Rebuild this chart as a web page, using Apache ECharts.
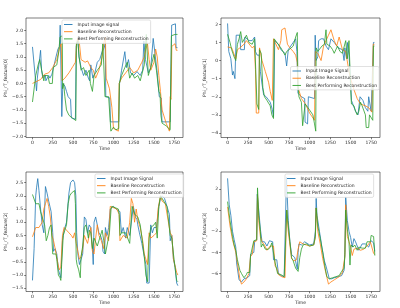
<!DOCTYPE html>
<html>
<head>
<meta charset="utf-8">
<script src="https://cdn.jsdelivr.net/npm/echarts@6/dist/echarts.min.js"></script>
<style>
html, body { margin: 0; padding: 0; background: #fff; }
#chart { width: 400px; height: 308px; }
</style>
</head>
<body>
<div id="chart"></div>
<script>
// tick labels
const timeTicks = [0, 250, 500, 750, 1000, 1250, 1500, 1750]
const yTicks = [
  [-2, -1.5, -1, -0.5, 0, 0.5, 1, 1.5, 2],
  [-4, -3, -2, -1, 0, 1, 2],
  [-1.5, -1, -0.5, 0, 0.5, 1, 1.5, 2, 2.5],
  [-6, -4, -2, 0, 2],
]
const yDecimals = [1, 0, 1, 0]
const yNames = ['Phi_rT_feature[0]', 'Phi_rT_feature[1]', 'Phi_rT_feature[2]', 'Phi_rT_feature[3]']
const inputNames = ['Input image signal', 'Input Image Signal', 'Input Image Signal', 'Input Image Signal']
const baseName = 'Baseline Reconstruction'
const bestName = 'Best Performing Reconstruction'

// feature[0]  [time, value]
const f0Input = [[0,1.38],[50,-0.28],[60,0.2],[100,1.25],[112,0.5],[128,0.2],[135,0.3],[160,0.3],[165,0.1],[200,0.3],[215,0.2],[240,0.35],[260,0.6],[290,1.0],[315,1.3],[335,1.4],[342,2.2],[358,2.25],[362,-1.25],[375,0.0],[400,-0.1],[420,-0.3],[440,-0.5],[470,-0.6],[480,-1.3],[530,-1.35],[540,1.4],[560,1.7],[575,1.0],[600,0.6],[630,0.3],[660,0.5],[690,0.2],[705,0.1],[720,0.7],[745,0.2],[770,0.4],[800,0.8],[830,0.9],[860,1.2],[885,1.35],[898,1.5],[905,-0.5],[955,-0.55],[962,-1.45],[1065,-1.45],[1075,0.0],[1100,0.5],[1140,1.2],[1160,0.6],[1185,0.9],[1210,0.4],[1250,0.3],[1290,0.45],[1330,0.3],[1360,0.5],[1375,1.6],[1395,0.9],[1430,0.4],[1460,0.6],[1490,1.7],[1540,0.4],[1565,-0.5],[1590,-0.55],[1598,-1.45],[1700,-1.45],[1718,2.2],[1765,2.25],[1772,1.35],[1790,1.35]]
const f0Base = [[0,0.0],[100,0.15],[150,0.35],[200,0.4],[250,0.6],[300,0.9],[330,1.3],[355,1.5],[365,0.1],[400,0.2],[450,0.4],[500,0.65],[530,0.8],[545,1.5],[560,1.7],[580,1.5],[600,0.9],[650,0.8],[680,0.85],[700,0.9],[720,0.6],[750,0.5],[780,0.2],[820,0.5],[860,1.0],[880,1.5],[900,1.75],[910,0.2],[950,-0.2],[980,-0.9],[1000,-1.7],[1060,-1.8],[1070,0.0],[1100,0.2],[1150,0.4],[1200,0.6],[1250,0.4],[1300,0.5],[1350,0.8],[1380,1.0],[1400,1.3],[1420,1.5],[1440,0.9],[1460,0.5],[1500,0.8],[1520,1.3],[1540,1.0],[1560,0.3],[1580,-0.3],[1600,-1.0],[1650,-1.5],[1690,-1.8],[1700,-0.5],[1710,-0.6],[1720,1.4],[1760,1.5],[1775,1.25],[1790,1.25]]
const f0Best = [[0,-0.7],[40,0.3],[70,0.7],[90,0.9],[110,0.55],[140,0.1],[150,0.3],[190,0.3],[200,0.25],[210,0.0],[245,0.0],[255,0.6],[300,0.7],[325,1.2],[340,1.75],[368,1.8],[372,-0.2],[385,0.0],[400,-0.5],[420,-1.0],[450,-1.2],[490,-1.3],[535,-1.4],[542,1.5],[560,1.6],[575,1.0],[600,0.5],[630,0.6],[660,0.3],[700,0.5],[715,0.0],[740,-0.3],[760,0.3],[800,0.5],[850,0.7],[868,1.5],[880,0.7],[895,-0.5],[940,-0.5],[968,-1.8],[1000,-1.65],[1030,-1.75],[1065,-1.7],[1072,0.0],[1100,0.3],[1140,0.6],[1170,0.8],[1200,0.2],[1230,0.4],[1260,0.2],[1300,0.3],[1330,0.1],[1380,0.7],[1405,1.85],[1420,1.85],[1430,0.3],[1460,0.6],[1500,1.1],[1530,0.5],[1560,-0.3],[1575,-0.4],[1585,-1.2],[1600,-1.5],[1650,-1.6],[1700,-1.75],[1705,-0.4],[1715,1.8],[1760,1.85],[1790,1.85]]

// feature[1]
const f1Input = [[0,2.05],[15,0.5],[40,0.1],[60,-0.8],[70,-0.6],[90,-1.0],[105,1.4],[150,1.4],[160,0.6],[205,0.6],[212,1.3],[260,1.1],[300,1.1],[330,1.3],[340,0.5],[360,0.3],[385,0.3],[400,-0.6],[420,-1.3],[440,-1.9],[470,-2.0],[520,-2.3],[545,-2.7],[560,-3.1],[575,1.1],[620,0.9],[650,0.6],[700,0.4],[720,-0.3],[740,0.6],[760,0.7],[800,1.0],[830,1.2],[845,0.5],[858,-1.8],[900,-2.0],[940,-2.1],[945,-3.4],[975,-3.5],[985,-2.0],[1060,-2.1],[1068,1.4],[1078,0.0],[1100,0.2],[1110,1.1],[1140,1.2],[1170,1.2],[1200,0.8],[1230,0.6],[1260,1.2],[1300,1.0],[1350,0.7],[1400,0.6],[1420,0.0],[1430,0.7],[1450,0.1],[1460,1.0],[1480,0.3],[1500,-1.2],[1510,-2.2],[1560,-2.8],[1590,-3.0],[1600,-3.1],[1615,-2.0],[1650,-2.2],[1680,-2.6],[1710,-2.8],[1720,-2.0],[1750,-2.8],[1770,-2.8],[1778,1.0],[1790,1.0]]
const f1Base = [[0,0.75],[50,0.7],[100,0.1],[115,0.0],[120,0.6],[150,0.7],[200,0.9],[230,1.1],[250,1.0],[300,0.7],[325,0.8],[340,-0.5],[350,-2.9],[380,-2.9],[390,0.7],[420,0.0],[460,-0.6],[500,-1.2],[520,-1.7],[545,-2.2],[560,1.2],[580,1.0],[620,0.6],[650,1.1],[660,1.7],[700,1.8],[720,1.8],[730,0.9],[760,0.7],[800,0.5],[830,0.3],[850,-0.1],[860,-1.5],[900,-2.1],[950,-2.4],[1000,-2.9],[1060,-3.3],[1070,0.5],[1100,0.4],[1140,0.0],[1170,0.8],[1200,1.1],[1230,1.4],[1260,1.7],[1280,1.6],[1300,1.1],[1330,0.8],[1360,1.3],[1400,0.6],[1440,0.5],[1480,-0.6],[1500,-1.0],[1540,-1.6],[1580,-2.1],[1620,-2.4],[1680,-2.5],[1720,-2.6],[1760,-2.85],[1775,0.9],[1790,0.9]]
const f1Best = [[0,1.45],[30,1.0],[50,0.6],[80,0.2],[100,0.0],[120,0.9],[140,1.2],[160,1.6],[180,1.0],[200,0.9],[230,1.4],[260,1.0],[300,0.9],[330,1.2],[352,1.3],[358,-2.4],[380,-2.7],[388,0.6],[410,0.4],[430,-1.5],[450,-2.0],[480,-2.2],[500,-2.3],[520,-2.5],[540,-3.0],[560,-3.2],[568,1.2],[600,1.0],[620,0.9],[650,0.7],[700,0.3],[720,0.5],[750,0.6],[800,0.8],[830,1.3],[850,1.55],[858,-1.3],[870,-2.0],[900,-2.3],[915,-3.6],[935,-3.6],[945,-2.4],[980,-2.6],[1000,-2.7],[1040,-3.0],[1060,-3.5],[1075,-3.9],[1080,0.7],[1100,0.5],[1150,0.8],[1180,0.9],[1200,1.7],[1210,0.9],[1250,0.8],[1280,0.6],[1300,0.4],[1340,0.8],[1370,0.5],[1400,0.4],[1420,0.3],[1440,1.1],[1460,0.1],[1480,1.1],[1500,-1.5],[1510,-2.4],[1540,-2.5],[1560,-2.8],[1580,-3.0],[1600,-2.8],[1620,-2.3],[1640,-2.5],[1680,-3.0],[1690,-3.7],[1720,-3.7],[1730,-3.0],[1770,-3.3],[1778,0.8],[1790,0.8]]

// feature[2]
const f2Input = [[0,-1.2],[20,0.0],[40,2.0],[50,2.3],[65,2.65],[80,2.2],[100,1.5],[120,0.9],[140,0.6],[160,2.35],[180,2.1],[200,1.8],[230,1.4],[250,0.6],[260,-0.1],[280,0.0],[300,-0.2],[320,-0.8],[340,-1.0],[350,-1.1],[370,0.3],[390,0.7],[420,1.0],[450,2.1],[470,2.5],[500,2.6],[520,2.5],[535,2.0],[545,0.6],[560,-0.2],[580,-0.6],[600,-0.4],[620,-0.2],[640,1.2],[660,1.1],[680,0.6],[700,0.9],[720,0.8],[740,0.0],[750,-0.6],[760,1.0],[780,1.2],[800,1.2],[820,0.6],[840,0.5],[860,0.3],[870,-0.1],[890,-0.2],[900,0.8],[920,0.5],[940,0.8],[960,1.5],[1000,1.6],[1030,1.5],[1080,1.4],[1090,0.9],[1100,0.6],[1120,0.8],[1150,0.4],[1170,0.8],[1200,0.5],[1245,1.6],[1270,1.2],[1290,1.1],[1300,0.9],[1320,0.6],[1350,0.2],[1380,-0.3],[1400,-0.6],[1410,-1.3],[1440,-1.3],[1460,0.9],[1480,0.6],[1500,0.8],[1530,0.8],[1560,1.6],[1580,1.9],[1600,2.0],[1630,1.9],[1660,1.6],[1690,1.3],[1700,0.3],[1720,0.5],[1740,-0.4],[1760,-0.7],[1780,-1.3],[1795,-1.4]]
const f2Base = [[0,0.45],[40,0.8],[80,0.8],[100,0.9],[120,1.0],[140,1.5],[160,1.7],[180,1.9],[200,1.6],[220,1.2],[240,0.5],[260,0.3],[280,0.0],[310,-0.5],[330,-0.8],[350,-0.7],[370,0.5],[390,0.8],[420,0.7],[450,0.6],[480,0.5],[500,0.4],[520,0.6],[540,0.2],[560,-0.1],[580,-0.4],[600,-0.3],[620,0.0],[640,0.5],[680,0.2],[700,0.5],[720,0.8],[740,-0.1],[760,-0.2],[780,0.4],[800,0.9],[820,0.5],[850,0.3],[880,0.0],[900,0.6],[940,0.3],[960,1.6],[980,1.55],[1040,1.5],[1070,1.3],[1080,0.3],[1120,0.5],[1170,0.4],[1200,1.0],[1220,1.9],[1240,1.7],[1260,1.0],[1280,1.5],[1300,1.1],[1330,0.8],[1360,0.3],[1380,-0.2],[1400,-0.4],[1420,-0.6],[1440,0.6],[1460,0.4],[1500,0.5],[1530,0.6],[1550,1.5],[1580,2.0],[1600,1.8],[1640,1.7],[1700,0.6],[1720,0.5],[1740,-0.4],[1780,-0.9],[1795,-1.0]]
const f2Best = [[0,2.05],[40,1.7],[80,1.7],[100,1.4],[120,1.2],[150,0.9],[170,0.3],[190,0.5],[210,0.8],[230,0.9],[250,-0.2],[290,-0.2],[300,-0.4],[320,-1.0],[340,-1.1],[350,-1.2],[360,-0.6],[380,0.5],[400,0.5],[420,0.9],[440,1.7],[460,2.0],[480,2.1],[520,2.2],[530,1.7],[540,-0.4],[550,-0.6],[570,-0.8],[590,-1.1],[600,-0.3],[620,0.1],[640,0.8],[660,0.9],[690,0.4],[700,0.7],[720,0.6],[740,0.0],[760,0.4],[780,0.4],[800,0.1],[830,0.4],[860,0.7],[880,0.3],[900,-0.2],[950,0.6],[970,1.5],[980,1.6],[1060,1.5],[1070,1.3],[1080,0.5],[1100,0.6],[1150,0.6],[1200,0.2],[1230,1.6],[1260,1.3],[1300,1.2],[1330,0.9],[1360,0.2],[1380,-0.3],[1400,-1.0],[1420,-1.25],[1440,0.4],[1460,0.8],[1500,0.9],[1520,1.0],[1540,0.4],[1560,1.6],[1580,2.0],[1620,1.8],[1660,1.6],[1680,1.6],[1700,0.5],[1720,0.4],[1740,-0.2],[1760,-0.7],[1780,-1.2],[1795,-1.25]]

// feature[3]
const f3Input = [[0,3.0],[20,0.5],[40,-0.5],[60,-2.0],[80,-2.8],[100,-3.5],[110,-5.0],[130,-5.1],[140,-6.6],[170,-6.8],[200,-6.5],[240,-6.4],[270,-6.2],[280,-4.2],[320,-4.0],[330,-3.0],[355,-2.8],[362,1.5],[380,0.0],[400,-1.8],[420,-3.0],[450,-3.0],[480,-3.4],[500,-3.5],[510,-2.9],[550,-3.0],[560,-4.7],[600,-4.7],[620,-6.0],[650,-6.2],[690,-6.3],[710,-6.2],[718,3.1],[740,-1.0],[760,-3.0],[780,-4.2],[820,-4.5],[850,-5.6],[860,-4.0],[870,-3.2],[900,-3.3],[940,-3.0],[960,-3.1],[1000,-3.3],[1050,-3.2],[1070,-2.0],[1080,1.1],[1090,-0.5],[1120,-2.0],[1150,-3.5],[1180,-4.8],[1200,-5.3],[1240,-6.5],[1270,-6.5],[1300,-6.4],[1350,-6.3],[1390,-6.2],[1420,-5.7],[1430,-4.0],[1440,1.2],[1460,-1.0],[1480,-2.0],[1500,-2.6],[1520,-3.5],[1540,-2.7],[1560,-3.0],[1580,-3.1],[1600,-3.8],[1640,-3.2],[1680,-3.2],[1720,-3.5],[1750,-2.9],[1780,-3.1],[1795,-3.9]]
const f3Base = [[0,0.3],[30,-1.5],[60,-2.8],[100,-4.0],[120,-5.0],[150,-6.5],[170,-7.0],[200,-6.8],[230,-6.5],[260,-6.0],[280,-4.4],[300,-4.2],[320,-3.0],[355,-2.9],[365,1.5],[380,-1.0],[400,-2.5],[420,-3.0],[450,-3.3],[480,-3.8],[500,-3.6],[520,-3.4],[560,-3.4],[580,-5.3],[600,-5.5],[620,-6.1],[660,-6.3],[700,-6.4],[720,0.0],[740,-2.0],[760,-3.3],[780,-4.6],[810,-4.8],[840,-4.7],[860,-3.7],[880,-3.0],[920,-3.2],[960,-3.3],[1000,-3.4],[1050,-3.3],[1070,-2.6],[1080,0.2],[1100,-2.0],[1130,-3.2],[1160,-4.6],[1200,-6.0],[1230,-7.0],[1260,-6.8],[1300,-6.6],[1360,-6.3],[1400,-5.9],[1430,-4.4],[1440,0.5],[1460,-2.5],[1480,-3.0],[1500,-3.5],[1520,-4.3],[1540,-3.7],[1580,-3.6],[1620,-3.8],[1660,-3.7],[1700,-3.4],[1740,-3.0],[1760,-3.0],[1780,-4.1],[1795,-4.2]]
const f3Best = [[0,0.8],[30,-1.0],[60,-2.5],[80,-3.3],[100,-3.8],[120,-4.7],[150,-5.7],[170,-6.0],[190,-6.1],[200,-6.4],[230,-6.1],[240,-5.9],[270,-5.9],[280,-4.3],[300,-4.2],[320,-2.9],[355,-2.8],[365,2.1],[380,-0.5],[400,-2.0],[410,-3.5],[430,-3.2],[460,-3.7],[480,-3.8],[500,-3.7],[520,-3.5],[540,-3.1],[560,-3.2],[580,-5.0],[600,-5.0],[610,-6.0],[650,-6.1],[690,-6.3],[710,-6.2],[722,0.0],[740,-1.5],[760,-3.0],[780,-4.5],[800,-4.8],[830,-5.5],[860,-5.8],[880,-4.5],[900,-3.7],[920,-3.3],[960,-3.2],[1000,-3.4],[1050,-3.3],[1070,-2.5],[1080,0.2],[1100,-1.5],[1130,-2.7],[1160,-4.0],[1190,-5.5],[1210,-6.3],[1240,-6.5],[1280,-6.4],[1320,-6.3],[1360,-6.2],[1390,-5.8],[1420,-5.5],[1430,-4.2],[1440,0.0],[1460,-1.8],[1480,-3.0],[1492,-5.2],[1505,-3.3],[1530,-3.5],[1550,-3.3],[1580,-3.8],[1600,-3.5],[1640,-3.6],[1680,-3.6],[1700,-3.0],[1740,-3.0],[1750,-2.4],[1780,-2.5],[1795,-4.3]]

const inputs = [f0Input, f1Input, f2Input, f3Input]
const baselines = [f0Base, f1Base, f2Base, f3Base]
const bests = [f0Best, f1Best, f2Best, f3Best]

// layout (pixels, matches the matplotlib tight layout)
const grids = [
  { left: 26, top: 18, width: 157, height: 119.5 },
  { left: 221, top: 18, width: 159, height: 119.5 },
  { left: 26, top: 172, width: 157, height: 119.5 },
  { left: 221, top: 172, width: 159, height: 119.5 },
]
const yRanges = [[-2.04, 2.47], [-4.25, 2.35], [-1.62, 2.9], [-7.7, 3.6]]
const yNameGaps = [16.5, 12.5, 16.5, 12.5]
const legendPos = [
  { left: 62, top: 20 },
  { left: 290.5, top: 66.5 },
  { left: 95, top: 174 },
  { left: 285, top: 174 },
]

const font = 'DejaVu Sans'
const fs = 4.5
const ink = '#262626'
const colors = ['#1f77b4', '#ff7f0e', '#2ca02c']
const minus = s => s.replace('-', '\u2212')

const tickStyle = { show: true, inside: false, length: 1.8, lineStyle: { color: ink, width: 0.6 } }

const option = {
  animation: false,
  backgroundColor: '#fff',
  grid: grids.map(g => ({ ...g, show: true, borderColor: ink, borderWidth: 0.6, containLabel: false, outerBoundsMode: 'none' })),
  xAxis: grids.map((g, i) => ({
    type: 'value',
    gridIndex: i,
    position: 'bottom',
    min: -80,
    max: 1858,
    name: 'Time',
    nameLocation: 'middle',
    nameGap: 8,
    nameTextStyle: { fontFamily: font, fontSize: fs, color: ink },
    axisLine: { show: false, onZero: false },
    axisTick: { ...tickStyle, customValues: timeTicks },
    axisLabel: { customValues: timeTicks, margin: 2.5, fontFamily: font, fontSize: fs, color: ink, formatter: v => String(v) },
    splitLine: { show: false },
  })),
  yAxis: grids.map((g, i) => ({
    type: 'value',
    gridIndex: i,
    position: 'left',
    min: yRanges[i][0],
    max: yRanges[i][1],
    name: yNames[i],
    nameLocation: 'middle',
    nameRotate: 90,
    nameGap: yNameGaps[i],
    nameTextStyle: { fontFamily: font, fontSize: fs, color: ink },
    axisLine: { show: false, onZero: false },
    axisTick: { ...tickStyle, customValues: yTicks[i] },
    axisLabel: {
      customValues: yTicks[i],
      margin: 3,
      fontFamily: font,
      fontSize: fs,
      color: ink,
      formatter: v => minus(v.toFixed(yDecimals[i])),
    },
    splitLine: { show: false },
  })),
  legend: legendPos.map((p, i) => ({
    ...p,
    orient: 'vertical',
    data: [inputNames[i], baseName, bestName],
    icon: 'rect',
    itemWidth: 8.5,
    itemHeight: 0.9,
    itemGap: 2.2,
    padding: [2, 2, 2, 2],
    backgroundColor: 'rgba(255,255,255,0.8)',
    borderColor: '#cccccc',
    borderWidth: 0.6,
    borderRadius: 1.5,
    textStyle: { fontFamily: font, fontSize: fs, color: ink },
  })),
  series: [],
}

for (let i = 0; i < 4; i++) {
  const sets = [[inputNames[i], inputs[i]], [baseName, baselines[i]], [bestName, bests[i]]]
  sets.forEach(([name, data], k) => {
    option.series.push({
      type: 'line',
      name,
      xAxisIndex: i,
      yAxisIndex: i,
      data,
      symbol: 'none',
      color: colors[k],
      lineStyle: { width: 0.8, color: colors[k] },
    })
  })
}

const chart = echarts.init(document.getElementById('chart'), null, { renderer: 'canvas' })
chart.setOption(option)
</script>
</body>
</html>
